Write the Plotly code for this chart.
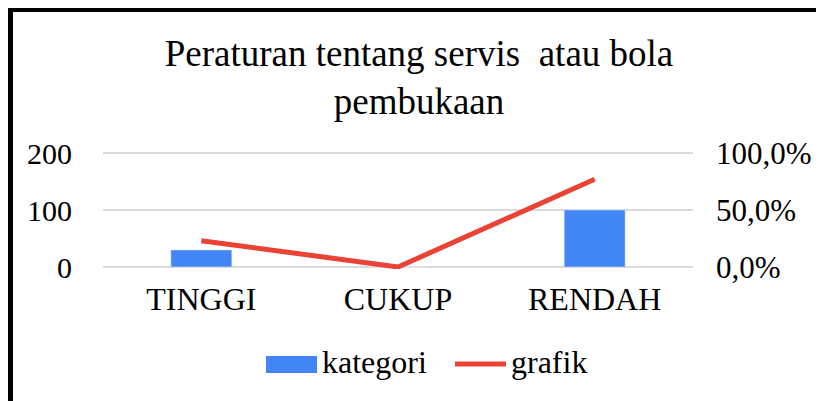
import plotly.graph_objects as go

categories = ["TINGGI", "CUKUP", "RENDAH"]
kategori = [30, 0, 100]
grafik = [0.231, 0.0, 0.769]
left_ticks = [0, 100, 200]
right_ticks = [0.0, 0.5, 1.0]

OFF = 8  # page body margin
W, H = 824 - OFF, 401 - OFF
# plot area in screen pixels: x 103..693, y 151..269 (2px pad so end gridlines survive)
L, T = 103 - OFF, 151 - OFF
R, B = W - (693 - OFF), H - (269 - OFF)
pw, ph = W - L - R, H - T - B

font = "Liberation Serif, Times New Roman, serif"
blue = "#4285F4"
red = "#EA4335"

fig = go.Figure()
fig.add_trace(go.Bar(x=categories, y=kategori, name="kategori",
                     marker_color=blue, width=0.31, showlegend=False))
fig.add_trace(go.Scatter(x=categories, y=grafik, name="grafik", yaxis="y2",
                         mode="lines", line=dict(color=red, width=5),
                         showlegend=False))

# screen pixel -> paper coords
def px(x):
    return (x - OFF - L) / pw

def py(y):
    return (H - B - (y - OFF)) / ph

shapes = [
    # frame (top + left)
    dict(type="line", xref="paper", yref="paper", x0=px(7), x1=px(840), y0=py(9), y1=py(9),
         line=dict(color="black", width=6)),
    dict(type="line", xref="paper", yref="paper", x0=px(10), x1=px(10), y0=py(6), y1=py(420),
         line=dict(color="black", width=6)),
    # legend symbols
    dict(type="rect", xref="paper", yref="paper", x0=px(266), x1=px(317), y0=py(373), y1=py(356),
         fillcolor=blue, line=dict(width=0)),
    dict(type="line", xref="paper", yref="paper", x0=px(455), x1=px(506), y0=py(364), y1=py(364),
         line=dict(color=red, width=5)),
]
annotations = [
    dict(text="kategori", xref="paper", yref="paper", x=px(320), y=py(362),
         xanchor="left", yanchor="middle", showarrow=False,
         font=dict(family=font, size=32, color="black")),
    dict(text="grafik", xref="paper", yref="paper", x=px(509), y=py(362),
         xanchor="left", yanchor="middle", showarrow=False,
         font=dict(family=font, size=32, color="black")),
]

fig.update_layout(
    width=W, height=H,
    margin=dict(l=L, r=R, t=T, b=B),
    paper_bgcolor="white", plot_bgcolor="white",
    separators=",.",
    title=dict(text="Peraturan tentang servis  atau bola<br>pembukaan",
               x=(419 - OFF) / W, xanchor="center", y=1 - 58 / H, yanchor="middle",
               font=dict(family=font, size=37, color="black")),
    xaxis=dict(showgrid=False, showline=False, ticks="",
               tickfont=dict(family=font, size=32, color="black"),
               ticklabelstandoff=8),
    yaxis=dict(range=[-3.5, 203.5], tickvals=left_ticks, showgrid=True,
               gridcolor="#d9d9d9", gridwidth=2, zeroline=False, showline=False,
               tickfont=dict(family=font, size=30, color="black"),
               ticklabelstandoff=30),
    yaxis2=dict(range=[-0.0175, 1.0175], tickvals=right_ticks, tickformat=".1%",
                overlaying="y", side="right", showgrid=False, zeroline=False,
                tickfont=dict(family=font, size=31, color="black"),
                ticklabelstandoff=22),
    shapes=shapes,
    annotations=annotations,
    showlegend=False,
)

fig.write_html("out.html")
